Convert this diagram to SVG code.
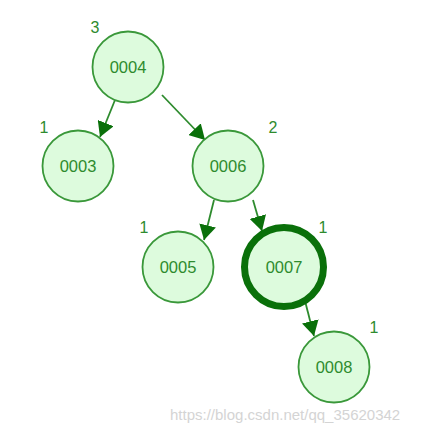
<svg xmlns="http://www.w3.org/2000/svg" width="422" height="432" viewBox="0 0 422 432">
<style>
.n{fill:#ddfbdd;stroke:#3a983a;stroke-width:1.8}
.t{font-family:"Liberation Sans",Arial,sans-serif;font-size:16.5px;fill:#2e8b2e;text-anchor:middle;dominant-baseline:central}
.l{font-family:"Liberation Sans",Arial,sans-serif;font-size:16px;fill:#2e8b2e;text-anchor:middle;dominant-baseline:central}
.e{stroke:#2e8b2e;stroke-width:1.8;fill:none;marker-end:url(#a)}
</style>
<defs>
<marker id="a" markerUnits="userSpaceOnUse" markerWidth="16" markerHeight="17" refX="15" refY="8.5" orient="auto">
<path d="M0,0 L15,8.5 L0,17 Z" fill="#0a700a"/>
</marker>
</defs>
<rect width="422" height="432" fill="#fff"/>
<g id="edges">
<path class="e" d="M115,100 L100,137"/>
<path class="e" d="M162,95 L205,140"/>
<path class="e" d="M214,200 L204,240"/>
<path class="e" d="M253,200 L262,231"/>
<path class="e" d="M304,297 L314,336"/>
</g>
<g id="n0004"><circle class="n" cx="128" cy="67" r="35.5"/><text class="t" x="128" y="67">0004</text><text class="l" x="95" y="27">3</text></g>
<g id="n0003"><circle class="n" cx="78" cy="166" r="35.5"/><text class="t" x="78" y="166">0003</text><text class="l" x="44" y="127">1</text></g>
<g id="n0006"><circle class="n" cx="228" cy="166" r="35.5"/><text class="t" x="228" y="166">0006</text><text class="l" x="273" y="127">2</text></g>
<g id="n0005"><circle class="n" cx="178" cy="267" r="35.5"/><text class="t" x="178" y="267">0005</text><text class="l" x="144" y="227">1</text></g>
<g id="n0007"><circle class="n" cx="284" cy="267" r="39.5" style="stroke:#0a700a;stroke-width:7"/><text class="t" x="284" y="267">0007</text><text class="l" x="323" y="227">1</text></g>
<g id="n0008"><circle class="n" cx="334" cy="367" r="35.5"/><text class="t" x="334" y="367">0008</text><text class="l" x="374" y="327">1</text></g>
<text x="170" y="414" style="font-family:'Liberation Sans',Arial,sans-serif;font-size:15px;fill:#d4d4d4;dominant-baseline:central">https://blog.csdn.net/qq_35620342</text>
</svg>
